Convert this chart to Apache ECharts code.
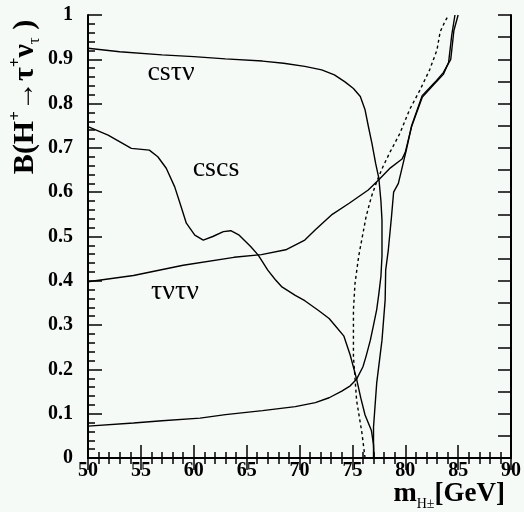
<!DOCTYPE html>
<html>
<head>
<meta charset="utf-8">
<script src="https://cdn.jsdelivr.net/npm/echarts@6/dist/echarts.min.js"></script>
<style>
html, body { margin: 0; padding: 0; background: #f6faf7; }
#chart { width: 524px; height: 512px; }
</style>
</head>
<body>
<div id="chart"></div>
<script>
// 曲线数据 [m_H, B]
var csTauNu = [
  [50, 0.925], [53, 0.917], [57, 0.91], [60, 0.906], [63, 0.901], [66.5, 0.896],
  [68.5, 0.891], [70.5, 0.884], [72.1, 0.876], [73.3, 0.865], [74.3, 0.849],
  [75.1, 0.834], [75.75, 0.816], [76.2, 0.786], [76.5, 0.75], [76.85, 0.71],
  [77.2, 0.665], [77.5, 0.632], [77.7, 0.58], [77.8, 0.537], [77.8, 0.456],
  [77.7, 0.41], [77.5, 0.37], [77.3, 0.335], [77.0, 0.3], [76.7, 0.266],
  [76.3, 0.23], [76.0, 0.206], [75.4, 0.178], [74.8, 0.163], [74.0, 0.151],
  [72.8, 0.136], [71.5, 0.125], [69.6, 0.116], [66.5, 0.107], [63, 0.098],
  [60.6, 0.09], [57, 0.084], [54.3, 0.079], [50, 0.072]
];
var cscs = [
  [50, 0.748], [51.9, 0.729], [54.1, 0.699], [55.8, 0.695], [56.6, 0.68],
  [57.4, 0.654], [58.2, 0.612], [58.7, 0.575], [59.3, 0.53], [60.1, 0.503],
  [60.9, 0.492], [61.8, 0.5], [62.8, 0.511], [63.5, 0.513], [64.3, 0.503],
  [65.4, 0.477], [66.1, 0.458], [67.0, 0.424], [67.7, 0.403], [68.3, 0.387],
  [69.6, 0.367], [70.5, 0.355], [71.8, 0.333], [72.8, 0.315], [73.4, 0.298],
  [74.2, 0.275], [74.8, 0.232], [75.4, 0.178], [75.8, 0.135], [76.2, 0.097],
  [76.8, 0.062], [77.0, 0.03], [77.05, 0]
];
var tauNuTauNu = [
  [50, 0.398], [54.3, 0.412], [59, 0.435], [63.8, 0.453], [66.4, 0.459],
  [68.7, 0.47], [70.5, 0.492], [71.5, 0.515], [73.1, 0.55], [74.7, 0.575],
  [76.5, 0.605], [77.5, 0.628], [78.6, 0.655], [79.7, 0.675], [80.0, 0.69],
  [80.6, 0.748], [81.6, 0.814], [82.7, 0.843], [83.6, 0.866], [84.1, 0.893],
  [84.4, 0.955], [84.7, 1.0]
];
var combined = [
  [77.0, 0], [77.0, 0.07], [77.3, 0.169], [77.8, 0.266], [78.1, 0.357],
  [78.15, 0.424], [78.4, 0.47], [78.7, 0.545], [78.9, 0.6], [79.35, 0.62],
  [79.8, 0.665], [80.1, 0.695], [80.6, 0.75], [81.6, 0.818], [82.8, 0.848],
  [83.6, 0.87], [84.3, 0.9], [84.6, 0.965], [85.0, 1.0]
];
var expected = [
  [76.2, 0], [75.9, 0.057], [75.4, 0.13], [75.1, 0.23], [75.1, 0.334],
  [75.25, 0.394], [75.6, 0.456], [76.0, 0.507], [76.3, 0.545], [76.8, 0.59],
  [77.4, 0.63], [77.9, 0.658], [78.55, 0.69], [79.5, 0.733], [80.4, 0.786],
  [81.4, 0.831], [82.3, 0.876], [83.0, 0.921], [83.3, 0.962], [83.75, 0.985],
  [84.1, 1.0]
];
var curveLabels = ['csτν', 'cscs', 'τντν'];

var serif = '"Liberation Serif", "DejaVu Serif", serif';
var chart = echarts.init(document.getElementById('chart'));

function lineSeries(data, dashed) {
  return {
    type: 'line',
    data: data,
    showSymbol: false,
    silent: true,
    animation: false,
    clip: true,
    lineStyle: {
      color: '#000',
      width: 1.4,
      type: dashed ? [3, 3] : 'solid'
    }
  };
}

var option = {
  backgroundColor: '#f6faf7',
  animation: false,
  grid: { left: 88, right: 13, top: 15, bottom: 54 },
  xAxis: [
    {
      type: 'value', position: 'bottom', min: 50, max: 90, interval: 5,
      axisLine: { lineStyle: { color: '#000', width: 2 } },
      axisTick: { inside: true, length: 13, lineStyle: { color: '#000', width: 1.5 } },
      minorTick: { show: true, splitNumber: 5, length: 6, lineStyle: { color: '#000', width: 1.5 } },
      splitLine: { show: false },
      axisLabel: { color: '#000', fontFamily: serif, fontWeight: 'bold', fontSize: 20, margin: 3 }
    },
    {
      type: 'value', position: 'top', min: 50, max: 90, interval: 5,
      axisLine: { lineStyle: { color: '#000', width: 2 } },
      axisTick: { inside: true, length: 12, lineStyle: { color: '#000', width: 1.5 } },
      minorTick: { show: true, splitNumber: 5, length: 6, lineStyle: { color: '#000', width: 1.5 } },
      splitLine: { show: false },
      axisLabel: { show: false }
    }
  ],
  yAxis: [
    {
      type: 'value', position: 'left', min: 0, max: 1, interval: 0.1,
      axisLine: { lineStyle: { color: '#000', width: 2 } },
      axisTick: { inside: true, length: 14, lineStyle: { color: '#000', width: 1.5 } },
      minorTick: { show: true, splitNumber: 5, length: 7, lineStyle: { color: '#000', width: 1.5 } },
      splitLine: { show: false },
      axisLabel: {
        color: '#000', fontFamily: serif, fontWeight: 'bold', fontSize: 20, margin: 15,
        formatter: function (v) {
          if (v === 0) return '0';
          if (v === 1) return '1';
          return v.toFixed(1);
        }
      }
    },
    {
      type: 'value', position: 'right', min: 0, max: 1, interval: 0.05,
      axisLine: { lineStyle: { color: '#000', width: 2 } },
      axisTick: { inside: true, length: 13, lineStyle: { color: '#000', width: 1.5 } },
      splitLine: { show: false },
      axisLabel: { show: false }
    }
  ],
  series: [
    lineSeries(csTauNu),
    lineSeries(cscs),
    lineSeries(tauNuTauNu),
    lineSeries(combined),
    lineSeries(expected, true)
  ],
  graphic: [
    {
      type: 'text', x: 25, y: 97, rotation: Math.PI / 2,
      style: {
        text: '{b|B(H}{sup|+}{b|→τ}{sup|+}{b|ν}{sub|τ}{b| )}',
        align: 'center', verticalAlign: 'middle',
        rich: {
          b: { fontFamily: serif, fontWeight: 'bold', fontSize: 30, lineHeight: 36, fill: '#000' },
          sup: { fontFamily: serif, fontWeight: 'bold', fontSize: 17, lineHeight: 36, verticalAlign: 'top', fill: '#000' },
          sub: { fontFamily: serif, fontSize: 17, lineHeight: 36, verticalAlign: 'bottom', fill: '#000' }
        }
      }
    },
    {
      type: 'text', x: 505, y: 494,
      style: {
        text: '{m|m}{sub|H±}{b|[GeV]}',
        align: 'right', verticalAlign: 'middle',
        rich: {
          m: { fontFamily: serif, fontWeight: 'bold', fontSize: 28, lineHeight: 34, fill: '#000' },
          sub: { fontFamily: serif, fontSize: 14, lineHeight: 30, verticalAlign: 'bottom', fill: '#000' },
          b: { fontFamily: serif, fontWeight: 'bold', fontSize: 27, lineHeight: 34, fill: '#000' }
        }
      }
    },
    {
      type: 'text', x: 171, y: 73,
      style: { text: curveLabels[0], font: '28px ' + serif, fill: '#000', align: 'center', verticalAlign: 'middle' }
    },
    {
      type: 'text', x: 216, y: 169,
      style: { text: curveLabels[1], font: '28px ' + serif, fill: '#000', align: 'center', verticalAlign: 'middle' }
    },
    {
      type: 'text', x: 175, y: 292,
      style: { text: curveLabels[2], font: '28px ' + serif, fill: '#000', align: 'center', verticalAlign: 'middle' }
    }
  ]
};

chart.setOption(option);
</script>
</body>
</html>
